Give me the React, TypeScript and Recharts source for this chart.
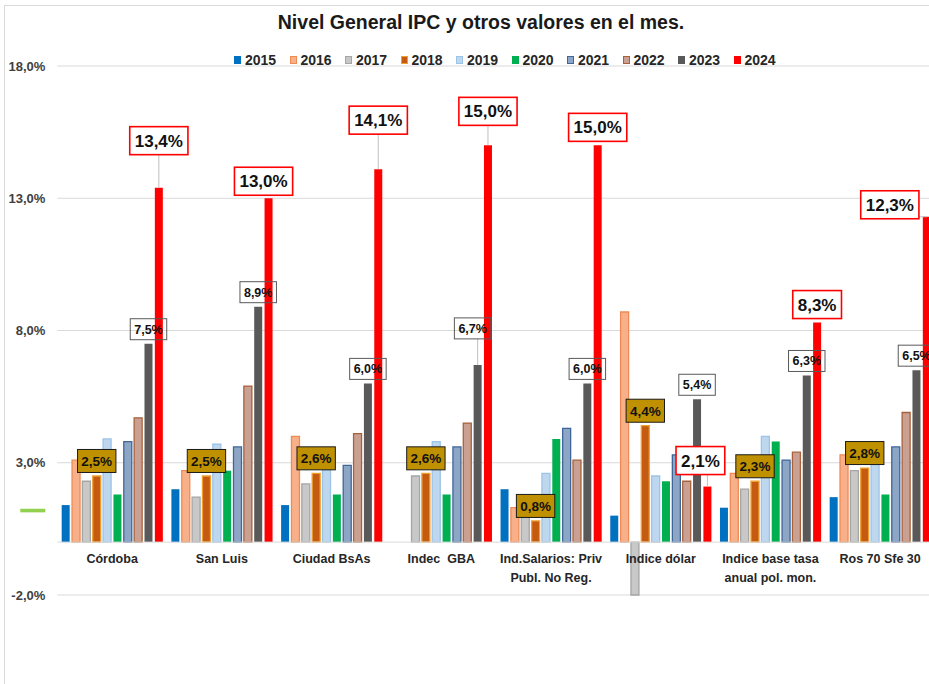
import React from "react";
import {
  Bar,
  BarChart,
  CartesianGrid,
  LabelList,
  ReferenceLine,
  XAxis,
  YAxis,
} from "recharts";

// values, in %
const categories = [
  "Córdoba",
  "San Luis",
  "Ciudad BsAs",
  "Indec  GBA",
  "Ind.Salarios: Priv\nPubl. No Reg.",
  "Indice dólar",
  "Indice base tasa\nanual pol. mon.",
  "Ros 70 Sfe 30",
];

const years = ["2015", "2016", "2017", "2018", "2019", "2020", "2021", "2022", "2023", "2024"];

const v2015 = [1.4, 2.0, 1.4, null, 2.0, 1.0, 1.3, 1.7];
const v2016 = [3.1, 2.7, 4.0, null, 1.3, 8.7, 2.6, 3.3];
const v2017 = [2.3, 1.7, 2.2, 2.5, 1.3, -2.0, 2.0, 2.7];
const v2018 = [2.5, 2.5, 2.6, 2.6, 0.8, 4.4, 2.3, 2.8];
const v2019 = [3.9, 3.7, 3.2, 3.8, 2.6, 2.5, 4.0, 3.3];
const v2020 = [1.8, 2.7, 1.8, 1.8, 3.9, 2.3, 3.8, 1.8];
const v2021 = [3.8, 3.6, 2.9, 3.6, 4.3, 3.3, 3.1, 3.6];
const v2022 = [4.7, 5.9, 4.1, 4.5, 3.1, 2.3, 3.4, 4.9];
const v2023 = [7.5, 8.9, 6.0, 6.7, 6.0, 5.4, 6.3, 6.5];
const v2024 = [13.4, 13.0, 14.1, 15.0, 15.0, 2.1, 8.3, 12.3];

const seriesValues: Record<string, (number | null)[]> = {
  "2015": v2015,
  "2016": v2016,
  "2017": v2017,
  "2018": v2018,
  "2019": v2019,
  "2020": v2020,
  "2021": v2021,
  "2022": v2022,
  "2023": v2023,
  "2024": v2024,
};

const yTicks = [-2, 3, 8, 13, 18];
const markerValue = 1.2; // the little green dash left of the axis

const data = categories.map((name, i) => {
  const row: Record<string, string | number | null> = { name };
  years.forEach((y) => (row[y] = seriesValues[y][i]));
  return row;
});

const seriesStyle: Record<string, { fill: string; stroke?: string }> = {
  "2015": { fill: "#0070C0" },
  "2016": { fill: "#F8B08A", stroke: "#F08A52" },
  "2017": { fill: "#C8C8C8", stroke: "#A5A5A5" },
  "2018": { fill: "#C55A11", stroke: "#F0A030" },
  "2019": { fill: "#BDD7EE", stroke: "#9DC3E6" },
  "2020": { fill: "#00B050" },
  "2021": { fill: "#8EA6C6", stroke: "#3E6699" },
  "2022": { fill: "#C9A092", stroke: "#A8623A" },
  "2023": { fill: "#595959" },
  "2024": { fill: "#FF0000" },
};

const labelKinds: Record<
  string,
  { font: number; h: number; pad: number; gap: number; fill: string; stroke: string; sw: number }
> = {
  "2018": { font: 13.5, h: 23, pad: 3.8, gap: 3.5, fill: "#BF9000", stroke: "#1a1a1a", sw: 1 },
  "2023": { font: 12.5, h: 21, pad: 4, gap: 4, fill: "none", stroke: "#595959", sw: 1 },
  "2024": { font: 17, h: 28, pad: 5, gap: 4, fill: "#ffffff", stroke: "#FF0000", sw: 1.6 },
};

// hand-moved labels, [dx, dy] by category index
const labelNudge: Record<string, Record<number, [number, number]>> = {
  "2023": { 3: [-5, -22] },
  "2024": { 0: [0, -29], 1: [-5, 1], 2: [0, -31], 3: [0, -16], 5: [-7, -8], 7: [-37, 6] },
};

const CHART_W = 962;
const CHART_H = 684;
const MARGIN = { top: 66, right: 27, bottom: 0, left: 0 };
const Y_AXIS_W = 57.3;
const X_AXIS_H = 89;
const PLOT_H = CHART_H - MARGIN.top - MARGIN.bottom - X_AXIS_H;
const Y_MIN = yTicks[0];
const Y_MAX = yTicks[yTicks.length - 1];
const ZERO_Y = MARGIN.top + (PLOT_H * Y_MAX) / (Y_MAX - Y_MIN);

const FONT = "'Liberation Sans', Arial, sans-serif";

const pct = (v: number) => `${v.toFixed(1).replace(".", ",")}%`;

// rough Arial bold widths, enough to size the boxes
const textEm = (s: string) =>
  s.split("").reduce((w, c) => w + (c === "," ? 0.278 : c === "%" ? 0.889 : 0.556), 0);

function makeLabel(year: string) {
  const st = labelKinds[year];
  const nudges = labelNudge[year] || {};
  return (props: any) => {
    const vb = props.viewBox && props.viewBox.width != null ? props.viewBox : props;
    const x = Number(vb.x);
    const y = Number(vb.y);
    const w = Number(vb.width);
    const h = Number(vb.height);
    if (props.value == null || isNaN(x)) return null;
    const text = pct(Number(props.value));
    const barCx = x + w / 2;
    const barTop = Math.min(y, y + h);
    const [dx, dy] = nudges[props.index] || [0, 0];
    const bw = textEm(text) * st.font + st.pad * 2;
    const cx = barCx + dx;
    const bottom = barTop - st.gap + dy;
    const top = bottom - st.h;
    const left = cx - bw / 2;
    const showLeader = Math.abs(dx) > 6 || Math.abs(dy) > 6;
    const lx = Math.max(left, Math.min(barCx, left + bw));
    const ly = Math.max(top, Math.min(barTop, bottom));
    return (
      <g>
        {showLeader && (
          <line x1={barCx} y1={barTop} x2={lx} y2={ly} stroke="#BFBFBF" strokeWidth={1} />
        )}
        <rect
          x={left}
          y={top}
          width={bw}
          height={st.h}
          fill={st.fill}
          stroke={st.stroke}
          strokeWidth={st.sw}
        />
        <text
          x={cx}
          y={top + st.h / 2 + st.font * 0.36}
          textAnchor="middle"
          fontSize={st.font}
          fontWeight="bold"
          fill="#111"
          fontFamily={FONT}
        >
          {text}
        </text>
      </g>
    );
  };
}

function YTick(props: any) {
  const { x, y, payload } = props;
  if (payload.value === markerValue) {
    return <rect x={x - 25} y={y - 1.6} width={25} height={3.6} fill="#92D050" />;
  }
  return (
    <text
      x={x}
      y={y}
      dy="0.36em"
      textAnchor="end"
      fontSize={13}
      fontWeight="bold"
      fill="#404040"
      fontFamily={FONT}
    >
      {pct(payload.value)}
    </text>
  );
}

function CategoryTick(props: any) {
  const { x, payload } = props;
  const lines = String(payload.value).split("\n");
  return (
    <text
      x={x}
      y={ZERO_Y + 21}
      textAnchor="middle"
      fontSize={12.5}
      fontWeight="bold"
      fill="#262626"
      fontFamily={FONT}
      style={{ whiteSpace: "pre" }}
    >
      {lines.map((l, i) => (
        <tspan key={i} x={x} dy={i === 0 ? 0 : 19}>
          {l}
        </tspan>
      ))}
    </text>
  );
}

function Legend() {
  return (
    <div
      style={{
        position: "absolute",
        left: 234,
        top: 52,
        display: "flex",
        fontSize: 14,
        fontWeight: "bold",
        color: "#262626",
        lineHeight: "16px",
      }}
    >
      {years.map((y) => {
        const s = seriesStyle[y];
        return (
          <div key={y} style={{ width: 55.5, display: "flex", alignItems: "center" }}>
            <span
              style={{
                display: "inline-block",
                width: 7,
                height: 8,
                boxSizing: "border-box",
                background: s.fill,
                border: s.stroke ? `1px solid ${s.stroke}` : "none",
                marginRight: 4,
              }}
            />
            <span>{y}</span>
          </div>
        );
      })}
    </div>
  );
}

const axisTicks = [...yTicks, markerValue].sort((a, b) => a - b);

export default function App() {
  return (
    <div
      style={{
        position: "absolute",
        left: 0,
        top: 0,
        width: 929,
        height: 684,
        overflow: "hidden",
        background: "#fff",
        fontFamily: FONT,
      }}
    >
      <div
        style={{
          position: "absolute",
          left: 4,
          top: 5,
          width: 1000,
          height: 700,
          borderLeft: "1px solid #D9D9D9",
          borderTop: "1px solid #D9D9D9",
        }}
      />
      <div
        style={{
          position: "absolute",
          left: 0,
          top: 10,
          width: CHART_W,
          textAlign: "center",
          fontSize: 19.5,
          fontWeight: "bold",
          lineHeight: "24px",
          color: "#1a1a1a",
        }}
      >
        Nivel General IPC y otros valores en el mes.
      </div>
      <Legend />
      <div style={{ position: "absolute", left: 0, top: 0 }}>
        <BarChart
          width={CHART_W}
          height={CHART_H}
          data={data}
          margin={MARGIN}
          barCategoryGap="4%"
          barGap={2.35}
        >
          <CartesianGrid vertical={false} stroke="#D9D9D9" horizontalValues={yTicks} />
          <XAxis
            dataKey="name"
            height={X_AXIS_H}
            axisLine={false}
            tickLine={false}
            interval={0}
            tick={<CategoryTick />}
          />
          <YAxis
            width={Y_AXIS_W}
            domain={[Y_MIN, Y_MAX]}
            ticks={axisTicks}
            interval={0}
            axisLine={false}
            tickLine={false}
            tickSize={0}
            tickMargin={12}
            tick={<YTick />}
          />
          <ReferenceLine y={0} stroke="#D9D9D9" strokeWidth={1} />
          {years.map((y) => {
            const s = seriesStyle[y];
            return (
              <Bar
                key={y}
                dataKey={y}
                fill={s.fill}
                stroke={s.stroke}
                strokeWidth={s.stroke ? 1.3 : 0}
                isAnimationActive={false}
              >
                {labelKinds[y] && <LabelList dataKey={y} content={makeLabel(y)} />}
              </Bar>
            );
          })}
        </BarChart>
      </div>
    </div>
  );
}
